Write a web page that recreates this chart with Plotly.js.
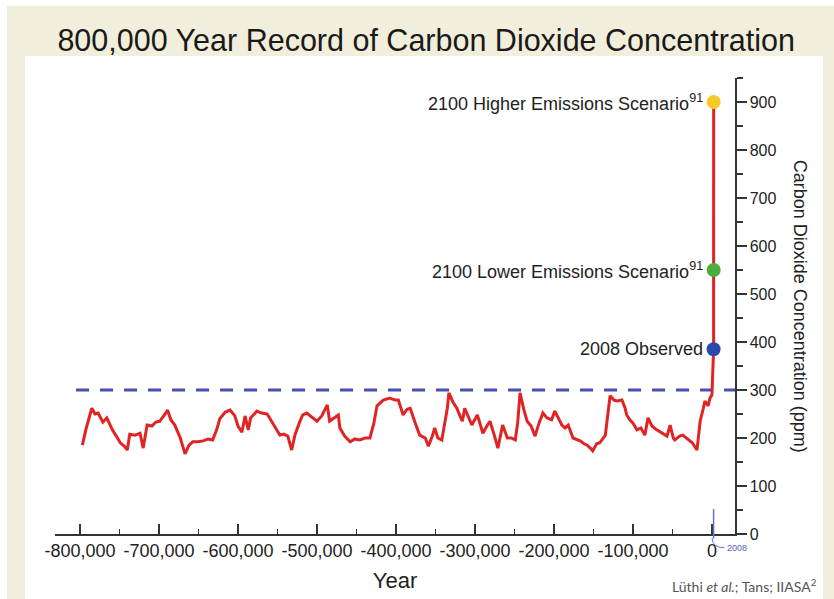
<!DOCTYPE html>
<html>
<head>
<meta charset="utf-8">
<script src="https://cdn.plot.ly/plotly-3.0.1.min.js"></script>
<style>html,body{margin:0;padding:0;background:#fff;}#chart{width:834px;height:599px;}</style>
</head>
<body>
<div id="chart"></div>
<script>
// Ice-core record (year relative to present, CO2 ppm)
const years = [-797000,-792000,-785000,-781000,-777000,-771000,-766000,-759000,-754000,-749000,-744000,-740000,-737000,-730000,-724000,-720000,-715000,-709000,-704000,-699000,-694000,-689000,-685000,-680000,-673000,-667000,-662000,-657000,-651000,-644000,-638000,-632000,-627000,-623000,-616000,-610000,-604000,-600000,-595000,-591000,-587000,-584000,-576000,-570000,-563000,-560000,-553000,-547000,-542000,-537000,-532000,-528000,-522000,-518000,-513000,-506000,-500000,-494000,-487000,-484000,-478000,-473000,-471000,-465000,-458000,-452000,-446000,-439000,-433000,-428000,-424000,-416000,-408000,-401000,-397000,-391000,-386000,-382000,-376000,-370000,-363000,-359000,-354000,-351000,-347000,-342000,-335000,-333000,-328000,-323000,-319000,-316000,-313000,-308000,-304000,-297000,-294000,-290000,-285000,-281000,-276000,-271000,-265000,-259000,-254000,-249000,-246000,-243000,-238000,-234000,-229000,-224000,-219000,-214000,-209000,-203000,-199000,-195000,-190000,-186000,-182000,-176000,-172000,-167000,-162000,-158000,-154000,-151000,-146000,-142000,-135000,-132000,-129000,-124000,-120000,-114000,-110000,-108000,-104000,-100000,-95000,-90000,-85000,-81000,-76000,-70000,-63000,-57000,-53000,-49000,-47000,-41000,-37000,-30000,-25000,-19000,-15000,-11000,-9000,-5000,-2500,-100,2008,2100];
const co2 = [185,221,262,250,252,233,242,217,204,190,183,175,208,206,210,179,227,225,233,235,246,258,238,227,200,167,185,192,192,194,198,196,217,240,254,258,246,225,212,246,217,242,256,252,250,242,221,206,208,204,175,206,233,248,252,242,235,246,269,235,242,248,221,204,192,198,196,200,200,231,267,279,283,279,279,248,260,262,233,206,200,183,204,221,200,196,262,294,275,262,246,235,262,242,227,248,231,210,225,235,208,179,227,200,200,196,231,294,258,235,225,204,231,252,242,238,256,242,227,221,227,200,198,194,188,185,179,173,188,190,206,242,288,279,277,279,262,248,238,231,217,221,206,242,225,217,210,204,227,200,196,204,206,196,190,175,235,262,277,267,283,290,385,900];

// Highlighted points
const pointYears = [2008, 2100, 2100];
const pointCO2 = [385, 550, 900];
const pointLabels = ['2008 Observed', '2100 Lower Emissions Scenario<sup>91</sup>', '2100 Higher Emissions Scenario<sup>91</sup>'];
const pointColors = ['#2c48a8', '#4aae3a', '#f6c928'];

// Reference level and axis ticks
const preindustrialLevel = 300;
const xTickVals = [-800000,-700000,-600000,-500000,-400000,-300000,-200000,-100000,0];
const xTickText = ['-800,000','-700,000','-600,000','-500,000','-400,000','-300,000','-200,000','-100,000','0'];
const yTickVals = [0,100,200,300,400,500,600,700,800,900];

const xRange = [-831600, 29100];
const yRange = [0, 950];

const font = 'Liberation Sans, Arial, sans-serif';

const traces = [
  {
    x: years, y: co2, type: 'scatter', mode: 'lines',
    line: {color: '#e02424', width: 3},
    hoverinfo: 'skip', showlegend: false
  },
  {
    x: pointYears, y: pointCO2, type: 'scatter', mode: 'markers',
    marker: {color: pointColors, size: 14},
    showlegend: false, hoverinfo: 'skip'
  }
];

const annotations = pointYears.map((x, i) => ({
  x: x, y: pointCO2[i], xref: 'x', yref: 'y', text: pointLabels[i],
  showarrow: false, xanchor: 'right', yanchor: 'middle', xshift: -9,
  font: {family: font, size: 18, color: '#222'}
}));
annotations.push({
  xref: 'paper', yref: 'paper', x: 1.096, y: 0.5, textangle: 90,
  text: 'Carbon Dioxide Concentration (ppm)', showarrow: false,
  xanchor: 'center', yanchor: 'middle',
  font: {family: font, size: 18, color: '#222'}
});
annotations.push({
  xref: 'paper', yref: 'paper', x: 1.123, y: -0.112,
  text: 'Lüthi <i>et al.</i>; Tans; IIASA<sup>2</sup>', showarrow: false,
  xanchor: 'right', yanchor: 'middle',
  font: {family: 'Lato, Open Sans, sans-serif', size: 14, color: '#555'}
});
annotations.push({
  xref: 'paper', yref: 'paper', x: 0.985, y: -0.03,
  text: '2008', showarrow: false, xanchor: 'left', yanchor: 'middle',
  font: {family: font, size: 9, color: '#5060c0'}
});

const shapes = [
  {type: 'rect', xref: 'paper', yref: 'paper', x0: -0.0706, x1: 1.146, y0: -0.15, y1: 1.158,
   fillcolor: '#f1eedb', line: {width: 0}, layer: 'below'},
  {type: 'rect', xref: 'paper', yref: 'paper', x0: -0.0441, x1: 1.1294, y0: -0.15, y1: 1.048,
   fillcolor: '#ffffff', line: {width: 0}, layer: 'below'},
  {type: 'line', xref: 'x', yref: 'y', x0: -805000, x1: xRange[1], y0: preindustrialLevel, y1: preindustrialLevel,
   line: {color: '#4650aa', width: 3, dash: '13px,11px'}, layer: 'below'},
  {type: 'line', xref: 'x', yref: 'paper', x0: 2008, x1: 2008, y0: -0.01, y1: 0.055,
   line: {color: '#6674cc', width: 1.5}},
  {type: 'path', xref: 'paper', yref: 'paper',
   path: 'M 0.9662 -0.009 Q 0.9670 -0.03 0.9840 -0.03',
   line: {color: '#6674cc', width: 1}}
];

const layout = {
  width: 834, height: 599,
  margin: {l: 55, r: 99, t: 78, b: 65},
  paper_bgcolor: '#ffffff', plot_bgcolor: 'rgba(0,0,0,0)',
  title: {
    text: '800,000 Year Record of Carbon Dioxide Concentration',
    font: {family: font, size: 30.5, color: '#1a1a1a'},
    x: 0.511, xanchor: 'center', y: 0.933, yanchor: 'middle'
  },
  xaxis: {
    range: xRange, showgrid: false, zeroline: false,
    showline: true, linecolor: '#333', linewidth: 1.5,
    tickmode: 'array', tickvals: xTickVals, ticktext: xTickText,
    ticks: 'inside', ticklen: 10, tickwidth: 1.5, tickcolor: '#333',
    minor: {tickmode: 'linear', tick0: -750000, dtick: 100000, ticks: 'inside', ticklen: 5, tickwidth: 1.5, tickcolor: '#333', showgrid: false},
    tickfont: {family: font, size: 18, color: '#222'},
    title: {text: 'Year', font: {family: font, size: 22, color: '#222'}, standoff: 12},
    fixedrange: true
  },
  yaxis: {
    range: yRange, side: 'right', showgrid: false, zeroline: false,
    showline: true, linecolor: '#333', linewidth: 1.5,
    tickmode: 'array', tickvals: yTickVals,
    ticks: 'outside', ticklen: 10, tickwidth: 1.5, tickcolor: '#333',
    minor: {tickmode: 'linear', tick0: 50, dtick: 100, ticks: 'outside', ticklen: 6, tickwidth: 1.5, tickcolor: '#333', showgrid: false},
    tickfont: {family: font, size: 16, color: '#222'},
    fixedrange: true
  },
  annotations: annotations,
  shapes: shapes,
  showlegend: false
};

Plotly.newPlot('chart', traces, layout, {displayModeBar: false, staticPlot: true});
</script>
</body>
</html>
